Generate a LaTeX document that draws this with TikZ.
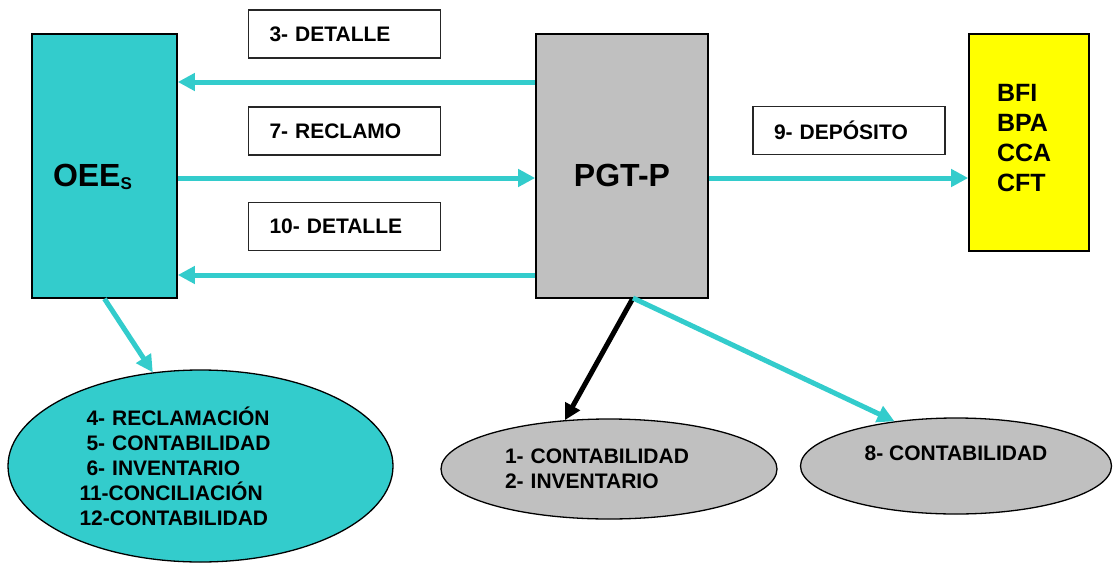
\documentclass[tikz,border=0pt]{standalone}
\usepackage{fontspec}
\setmainfont{Liberation Sans}
\usetikzlibrary{arrows.meta, shapes.geometric}
\definecolor{Turquesa}{HTML}{33CCCC}
\definecolor{Plata}{HTML}{C0C0C0}
\definecolor{Amarillo}{HTML}{FFFF00}

\begin{document}
\begin{tikzpicture}[
  x=1pt, y=-1pt,
  caja/.style={draw=black, line width=1.6pt, inner sep=0pt},
  grande/.style={font=\fontsize{32}{36}\selectfont\bfseries, text height=41pt, text depth=0pt},
  etq/.style={draw=black!85, line width=1.6pt, fill=white, minimum height=48pt, inner xsep=21pt, text width=150pt, align=left, font=\fontsize{21}{25}\selectfont\bfseries},
  elip/.style={ellipse, draw=black, line width=1.3pt, inner sep=0pt, font=\fontsize{21}{25}\selectfont\bfseries},
  flujo/.style={draw=Turquesa, line width=5pt, -{Triangle[length=17pt, width=17pt]}},
]
  \useasboundingbox (0,0) rectangle (1116,565);

  % organismos y banco
  \node[caja, grande, fill=Turquesa, minimum width=145pt, minimum height=264pt, text width=103pt, align=left] (oee) at (104.5,166) {OEE\raisebox{-3pt}{\fontsize{17}{17}\selectfont S}};
  \node[caja, grande, fill=Plata, minimum width=172pt, minimum height=264pt] (pgt) at (622,166) {PGT-P};
  \node[caja, fill=Amarillo, minimum width=120pt, minimum height=217pt, text width=64pt, text depth=100pt, align=left, font=\fontsize{25}{30}\selectfont\bfseries] (bnk) at (1029,142.5) {BFI\\BPA\\CCA\\CFT};

  % etiquetas de los flujos
  \node[etq] (det3) at (344.5,34) {3- DETALLE};
  \node[etq] (recl7) at (344.5,131) {7- RECLAMO};
  \node[etq] (det10) at (344.5,226.5) {10- DETALLE};
  \node[etq] (dep9) at (849,130.5) {9- DEPÓSITO};

  % registros
  \node[elip, fill=Turquesa, minimum width=385pt, minimum height=192pt, text width=242pt, align=left] (cel) at (200.5,466) {\hspace*{7pt}4- RECLAMACIÓN\\ \hspace*{7pt}5- CONTABILIDAD\\ \hspace*{7pt}6- INVENTARIO\\ 11-CONCILIACIÓN\\ 12-CONTABILIDAD};
  \node[elip, fill=Plata, minimum width=336pt, minimum height=100pt, text width=208pt, align=left] (gri1) at (609,469) {1- CONTABILIDAD\\2- INVENTARIO};
  \node[elip, fill=Plata, minimum width=311pt, minimum height=96pt, align=center] (gri2) at (956,466) {8- CONTABILIDAD\\\mbox{}};

  % flujos
  \coordinate (sal) at (633,298);
  \draw[flujo] ([yshift=84pt]pgt.west) -- ([yshift=84pt]oee.east);
  \draw[flujo] ([yshift=-12pt]oee.east) -- ([yshift=-12pt]pgt.west);
  \draw[flujo] ([yshift=-109pt]pgt.west) -- ([yshift=-109pt]oee.east);
  \draw[flujo] ([yshift=-12pt]pgt.east) -- ([yshift=-35.5pt]bnk.west);
  \draw[flujo] (oee.south) -- (cel.117);
  \draw[line width=5pt, -{Triangle[length=16pt, width=16pt]}] (sal) -- (gri1.132);
  \draw[flujo] (sal) -- (gri2.144);
\end{tikzpicture}
\end{document}
